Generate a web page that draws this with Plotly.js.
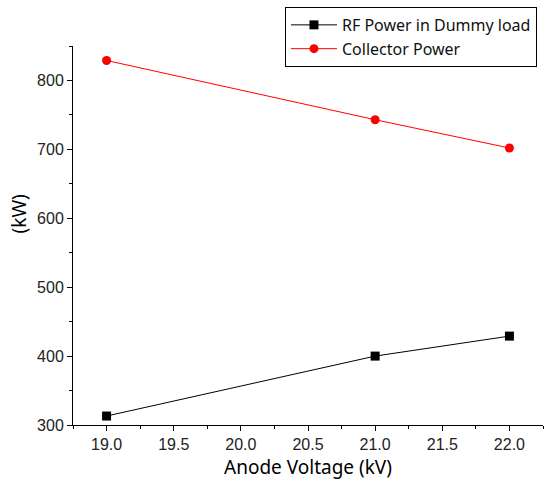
<!DOCTYPE html>
<html><head><meta charset="utf-8">
<script src="https://cdn.plot.ly/plotly-3.0.1.min.js"></script>
<style>html,body{margin:0;padding:0;background:#fff}</style>
</head><body><div id="chart" style="width:548px;height:486px"></div>
<script>
const voltage = [19.0, 21.0, 22.0];
const rfPower = [313, 400, 429];
const collectorPower = [829, 743, 702];
const seriesNames = ["RF Power in Dummy load", "Collector Power"];
const xTitle = "Anode Voltage (kV)";
const yTitle = "(kW)";

const traces = [
  {x: voltage, y: rfPower, name: seriesNames[0], mode: "lines+markers", type: "scatter",
   line: {color: "#000", width: 1}, marker: {symbol: "square", size: 9, color: "#000"}},
  {x: voltage, y: collectorPower, name: seriesNames[1], mode: "lines+markers", type: "scatter",
   line: {color: "#ff0000", width: 1}, marker: {symbol: "circle", size: 9, color: "#ff0000"}}
];
const axisCommon = {
  showgrid: false, zeroline: false, showline: true, linecolor: "#000", linewidth: 1,
  ticks: "outside", ticklen: 5, tickwidth: 1, tickcolor: "#000",
  tickfont: {family: "Liberation Sans, Arial, sans-serif", size: 16, color: "#222"}
};
const titleFont = {family: "Noto Sans, Open Sans, sans-serif", size: 19, color: "#000"};
const layout = {
  width: 548, height: 486,
  margin: {l: 73, r: 5, t: 46, b: 61},
  paper_bgcolor: "#fff", plot_bgcolor: "#fff",
  showlegend: true,
  legend: {x: 0.451, y: 1.103, xanchor: "left", yanchor: "top",
    bordercolor: "#000", borderwidth: 1, bgcolor: "#fff",
    font: {family: "Noto Sans, Open Sans, sans-serif", size: 16, color: "#111"},
    tracegroupgap: 0, itemwidth: 46},
  xaxis: Object.assign({}, axisCommon, {
    range: [18.75, 22.25], dtick: 0.5, tick0: 19, tickformat: ".1f",
    minor: {ticks: "outside", ticklen: 3, tickcolor: "#000", dtick: 0.25, tick0: 18.75, showgrid: false},
    title: {text: xTitle, font: titleFont, standoff: 8}
  }),
  yaxis: Object.assign({}, axisCommon, {
    range: [300, 850], dtick: 100, tick0: 300,
    minor: {ticks: "outside", ticklen: 3, tickcolor: "#000", dtick: 50, showgrid: false}
  }),
  annotations: [{text: yTitle, xref: "paper", yref: "paper", x: -0.115, y: 0.558,
    xanchor: "center", yanchor: "middle", textangle: -90, showarrow: false, font: titleFont}]
};
Plotly.newPlot("chart", traces, layout, {displayModeBar: false, staticPlot: true});
</script></body></html>
